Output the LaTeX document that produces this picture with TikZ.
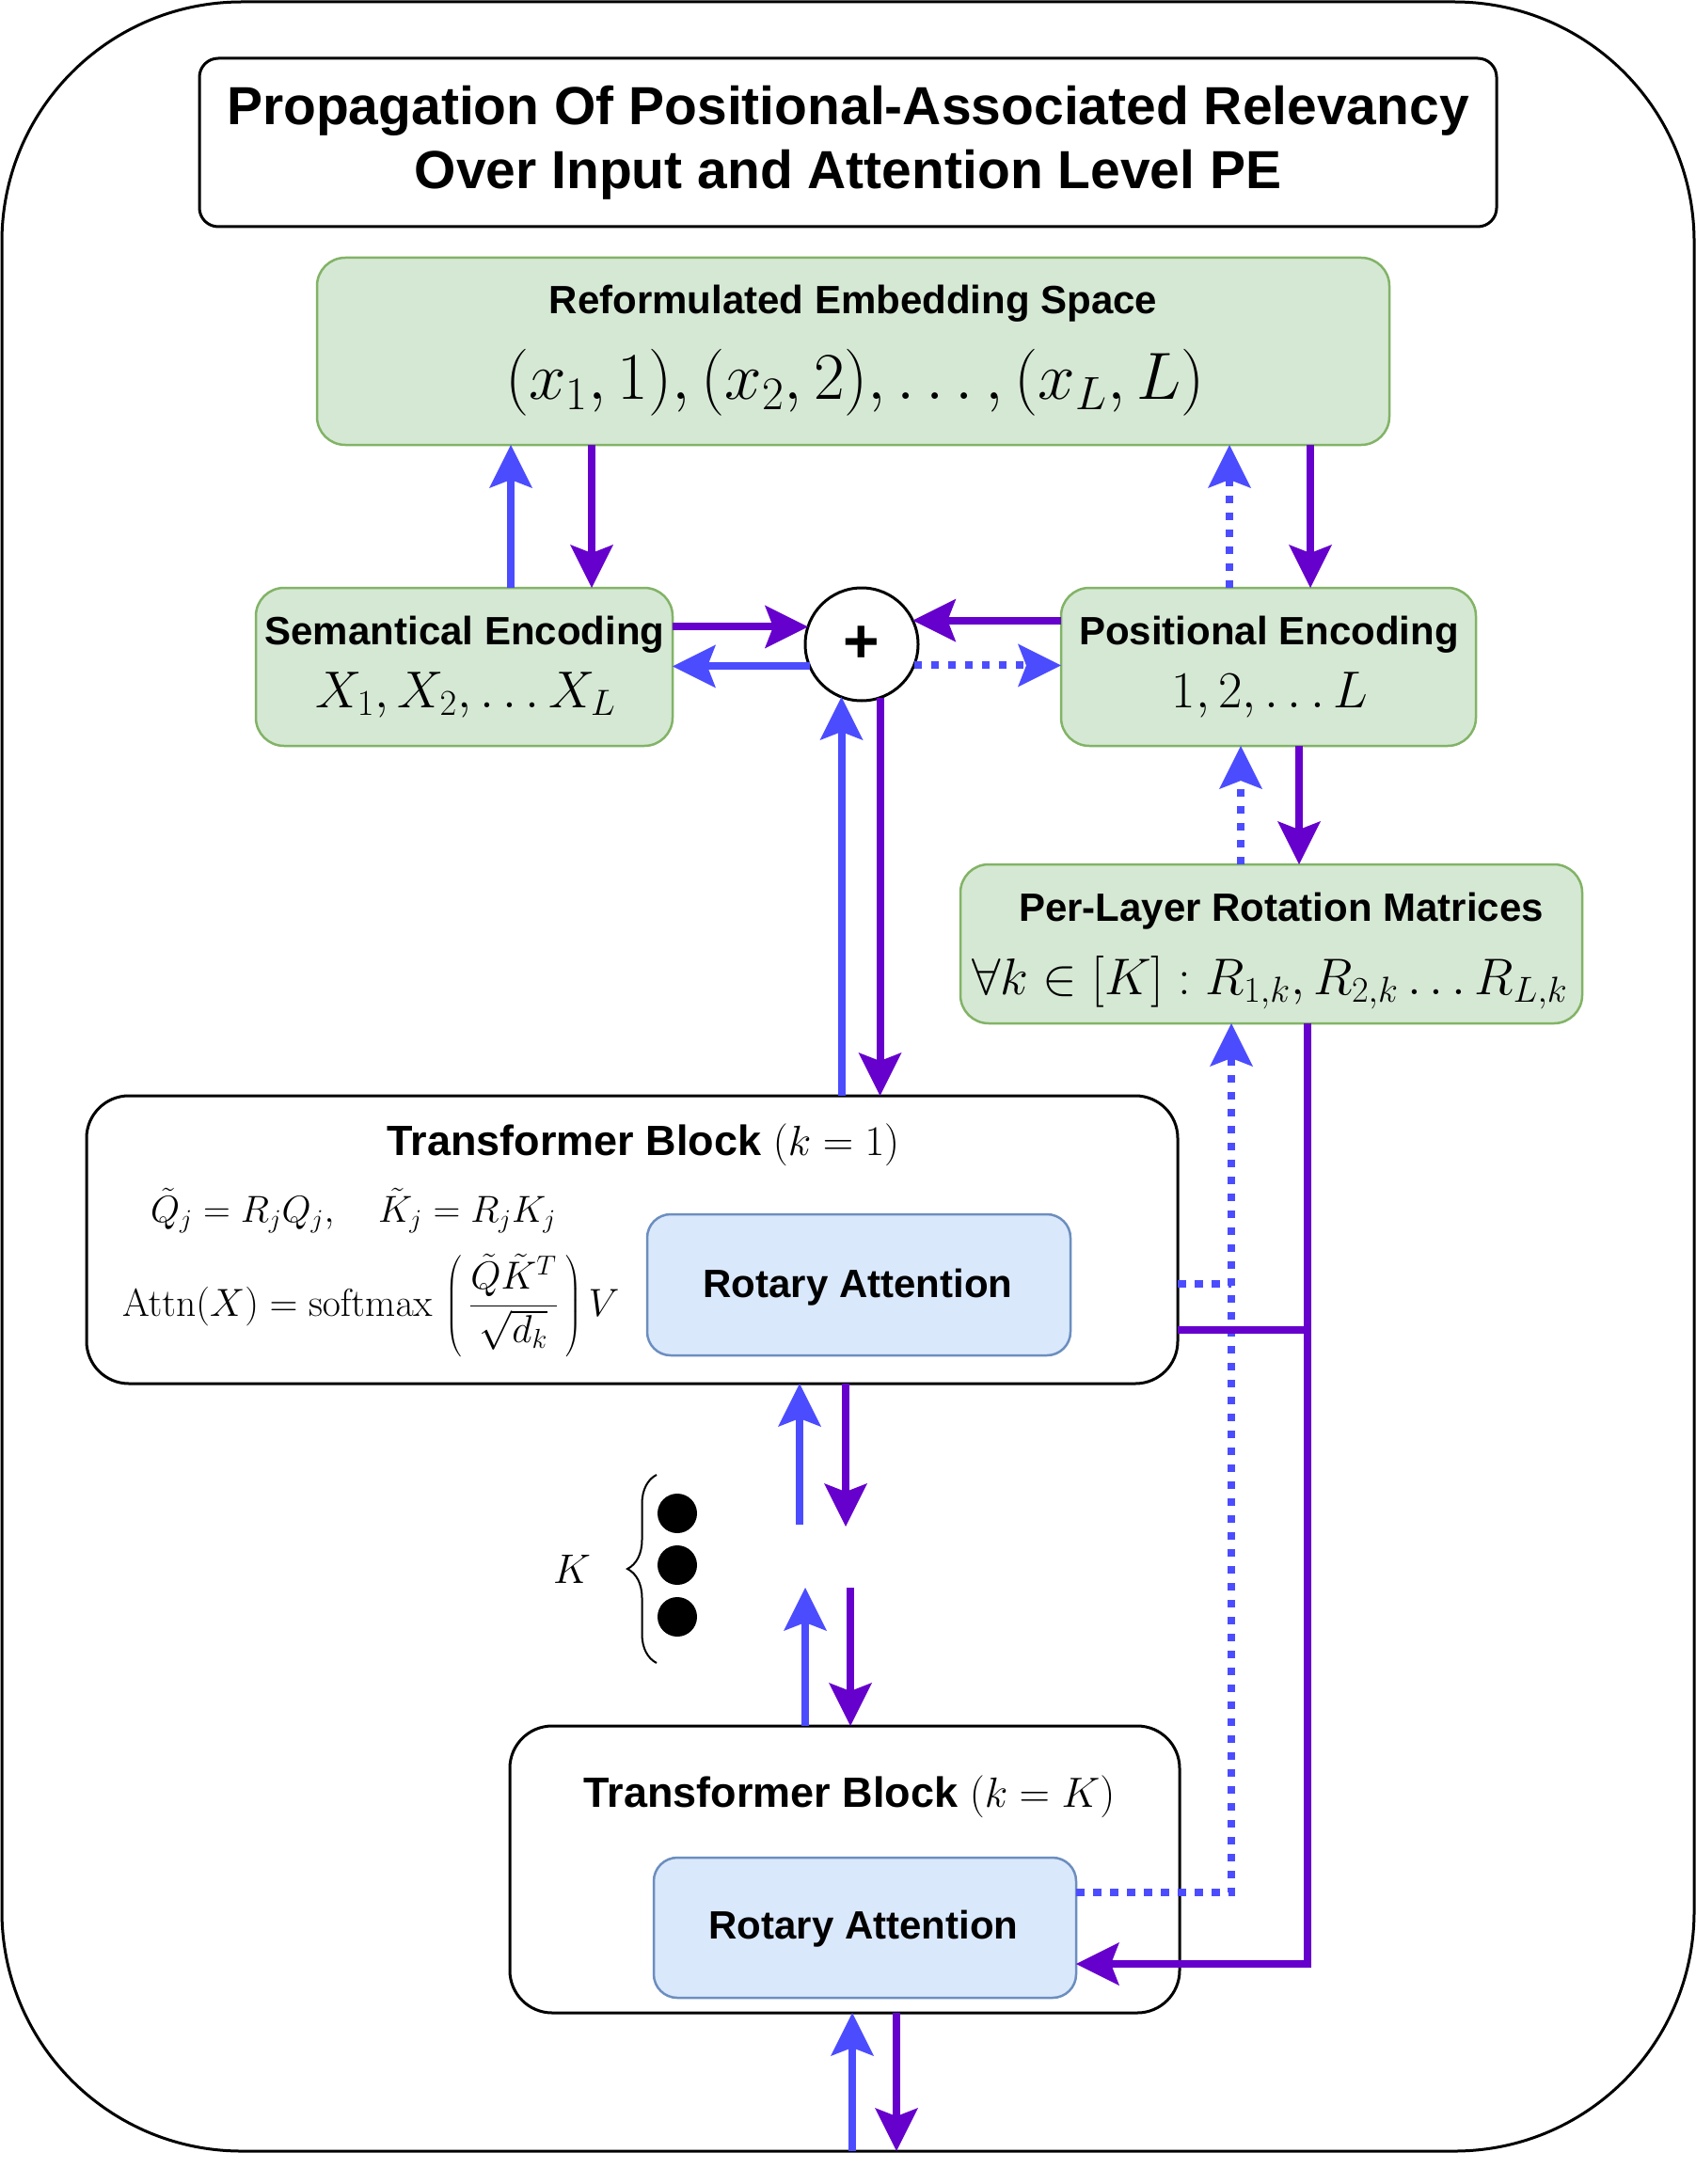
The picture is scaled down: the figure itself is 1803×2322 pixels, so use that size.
\RequirePackage{fix-cm}
\documentclass[tikz,border=0pt]{standalone}
\usepackage[no-math]{fontspec}
\setmainfont{Liberation Sans}
\usetikzlibrary{arrows.meta,calc,decorations.pathreplacing}
\definecolor{gfill}{HTML}{D5E8D4}
\definecolor{gline}{HTML}{82B366}
\definecolor{bfill}{HTML}{DAE8FC}
\definecolor{bline}{HTML}{6C8EBF}
\definecolor{arB}{HTML}{4C4CFF}
\definecolor{arP}{HTML}{6600CC}
\begin{document}
\begin{tikzpicture}[x=0.5pt,y=-0.5pt,
  every node/.style={inner sep=0pt,outer sep=0pt},
  gbox/.style={draw=gline,fill=gfill,line width=1.25pt,rounded corners=15pt},
  bbox/.style={draw=bline,fill=bfill,line width=1.25pt,rounded corners=12.5pt},
  kbox/.style={draw=black,fill=white,line width=1.5pt},
  lbl/.style={font=\fontsize{21}{25}\selectfont\bfseries},
  tbt/.style={font=\fontsize{22.5}{27}\selectfont\bfseries},
  mth/.style={font=\fontsize{27.6}{32}\selectfont},
  eqf/.style={font=\fontsize{20}{24}\selectfont},
  ar/.style={line width=4pt,-{Stealth[length=23pt,width=23pt,inset=4.5pt,line width=0pt]}},
  ab/.style={ar,color=arB},
  ap/.style={ar,color=arP},
  dotl/.style={dash pattern=on 4.25pt off 4.75pt},
  dotc/.style={circle,fill=black,minimum size=21pt}
]
\fill[white] (0,0) rectangle (1803,2322);
\useasboundingbox (0,0) rectangle (1803,2322);

% frame
\node[kbox,rounded corners=127.5pt,minimum width=899.5pt,minimum height=1142.5pt] (frame) at (901.5,1144.5) {};

% title
\node[kbox,rounded corners=10pt,minimum width=689.5pt,minimum height=89.5pt,align=center,
      font=\fontsize{28.5}{34}\selectfont\bfseries] (title) at (901.5,151.5)
      {Propagation Of Positional-Associated Relevancy\\Over Input and Attention Level PE};

% embedding space
\node[gbox,minimum width=570pt,minimum height=99.5pt] (ref) at (907,373.5) {};
\node[lbl] (reft) at (907,323) {Reformulated Embedding Space};
\node[font=\fontsize{35.5}{42}\selectfont] (refm) at (909,407) {$(x_1,1),(x_2,2),\ldots,(x_L,L)$};

% semantical
\node[gbox,minimum width=221.5pt,minimum height=84pt] (sem) at (493.5,709) {};
\node[lbl] (semt) at (494,675) {Semantical Encoding};
\node[mth] (semm) at (495,739) {$X_1, X_2, \ldots X_L$};

% positional
\node[gbox,minimum width=220.5pt,minimum height=84pt] (pos) at (1348.5,709) {};
\node[lbl] (post) at (1349,675) {Positional Encoding};
\node[mth] (posm) at (1350,739) {$1, 2, \ldots L$};

% per-layer
\node[gbox,minimum width=330.5pt,minimum height=84.5pt] (per) at (1351.5,1003.5) {};
\node[lbl] (pert) at (1362,969) {Per-Layer Rotation Matrices};
\node[font=\fontsize{27.4}{32}\selectfont] (perm) at (1350,1045) {$\forall k \in [K] : R_{1,k}, R_{2,k} \ldots R_{L,k}$};

% transformer block 1
\node[kbox,rounded corners=22.5pt,minimum width=580pt,minimum height=153pt] (tb1) at (672,1318) {};
\node[tbt] (tb1t) at (684,1217) {Transformer Block $(k=1)$};
\node[bbox,minimum width=225pt,minimum height=75pt] (rot1) at (913,1366) {};
\node[lbl] (rot1t) at (912,1369) {Rotary Attention};
\node[eqf,anchor=west] (eq1) at (160,1287) {$\tilde{Q}_j = R_jQ_j, \quad \tilde{K}_j = R_jK_j$};
\node[font=\fontsize{20.8}{25}\selectfont,anchor=west] (eq2) at (130,1389) {$\mathrm{Attn}(X) = \mathrm{softmax}\,\left(\vrule height 34pt depth 24pt width 0pt\,{\displaystyle\frac{\tilde{Q}\tilde{K}^T}{\sqrt{d_k}}}\,\right)V$};

% transformer block K
\node[kbox,rounded corners=22.5pt,minimum width=356pt,minimum height=152.5pt] (tbk) at (898,1987.5) {};
\node[tbt] (tbkt) at (903,1910) {Transformer Block $(k=K)$};
\node[bbox,minimum width=224.5pt,minimum height=74.5pt] (rotk) at (919.5,2049.5) {};
\node[lbl] (rotkt) at (918,2051) {Rotary Attention};

% brace, K, dots
\coordinate (br1) at (698,1768);
\coordinate (br2) at (698,1568);
\draw[line width=1pt,decorate,decoration={brace,amplitude=15.5pt}] (br1) -- (br2);
\node[font=\fontsize{22}{26}\selectfont] (klab) at (608,1668) {$K$};
\node[dotc] (d1) at (720,1609) {};
\node[dotc] (d2) at (720,1664) {};
\node[dotc] (d3) at (720,1719) {};

% plus
\node[circle,draw,line width=1.5pt,fill=white,minimum size=60pt,
      font=\fontsize{33}{40}\selectfont\bfseries] (plus) at (916,685) {+};

% ref <-> sem
\coordinate (c1) at ($(sem.north)+(49.5,0)$);
\coordinate (c2) at ($(sem.north)+(135.5,0)$);
\draw[ab] (c1) -- (c1 |- ref.south);
\draw[ap] (c2 |- ref.south) -- (c2);

% ref <-> pos
\coordinate (c3) at ($(pos.north)+(-41.5,0)$);
\coordinate (c4) at ($(pos.north)+(44.5,0)$);
\draw[ab,dotl] (c3) -- (c3 |- ref.south);
\draw[ap] (c4 |- ref.south) -- (c4);

% sem / pos <-> plus
\draw[ap] (sem.east |- plus.162.5) -- (plus.162.5);
\draw[ab] (plus.203.6) -- (sem.east |- plus.203.6);
\draw[ap] (pos.west |- plus.25.7) -- (plus.25.7);
\draw[ab,dotl] (plus.338.5) -- (pos.west |- plus.338.5);

% plus <-> tb1
\draw[ab] (tb1.north -| plus.249.5) -- (plus.249.5);
\draw[ap] (plus.289.5) -- (tb1.north -| plus.289.5);

% pos <-> per
\coordinate (c5) at ($(per.north)+(-32.5,0)$);
\coordinate (c6) at ($(per.north)+(29.5,0)$);
\draw[ab,dotl] (c5) -- (c5 |- pos.south);
\draw[ap] (c6 |- pos.south) -- (c6);

% per <-> rotary attention
\coordinate (c7) at ($(per.south)+(-42.5,0)$);
\coordinate (c8) at ($(per.south)+(38.5,0)$);
\coordinate (r1) at ($(rotk.east)+(0,-37.5)$);
\coordinate (r2) at ($(rotk.east)+(0,38.5)$);
\coordinate (t1) at ($(tb1.east)+(0,47)$);
\coordinate (t2) at ($(tb1.east)+(0,96)$);
\draw[ab,dotl] (r1) -| (c7);
\draw[ap] (c8) |- (r2);
\draw[arB,line width=4pt,dotl] (t1) -- (t1 -| c7);
\draw[arP,line width=4pt] (t2) -- (t2 -| c8);

% between blocks
\coordinate (f1) at (850,1621);
\coordinate (f2) at (899,1623);
\coordinate (f3) at (856,1688);
\coordinate (f4) at (904,1688);
\draw[ab] (f1) -- (f1 |- tb1.south);
\draw[ap] (f2 |- tb1.south) -- (f2);
\draw[ab] (f3 |- tbk.north) -- (f3);
\draw[ap] (f4) -- (f4 |- tbk.north);

% below block K
\coordinate (f5) at (906,2287);
\coordinate (f6) at (953,2287);
\draw[ab] (f5 |- frame.south) -- (f5 |- tbk.south);
\draw[ap] (f6 |- tbk.south) -- (f6 |- frame.south);
\end{tikzpicture}
\end{document}
